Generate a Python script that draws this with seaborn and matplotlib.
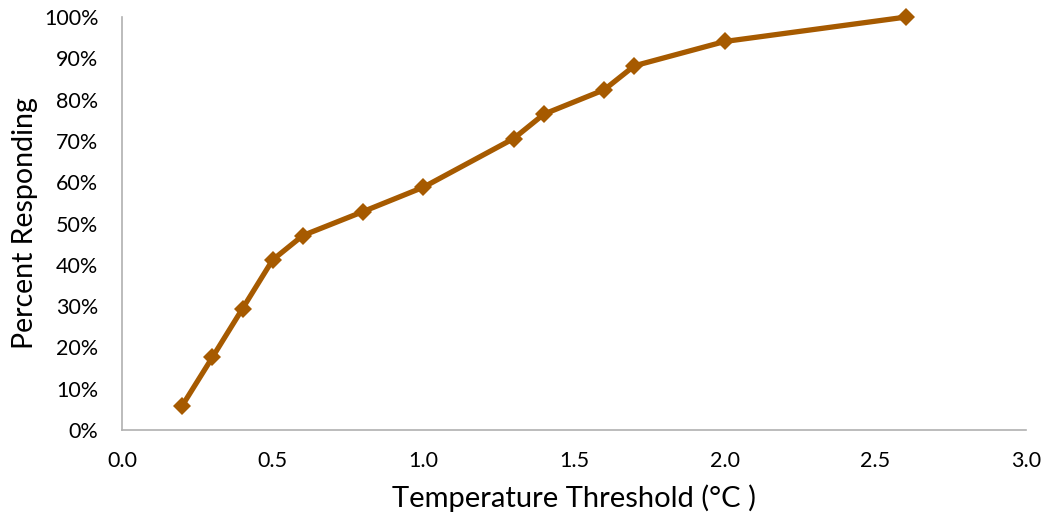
import pandas as pd
import seaborn as sns
import matplotlib.pyplot as plt
from matplotlib.ticker import PercentFormatter, MultipleLocator

# значения
threshold = [0.2, 0.3, 0.4, 0.5, 0.6, 0.8, 1.0, 1.3, 1.4, 1.6, 1.7, 2.0, 2.6]
responding = [5.9, 17.6, 29.4, 41.2, 47.1, 52.9, 58.8, 70.6, 76.5, 82.4, 88.2, 94.1, 100.0]

df = pd.DataFrame({'threshold': threshold, 'responding': responding})

sns.set_style('white')
plt.rcParams['font.family'] = ['Lato', 'DejaVu Sans']

fig = plt.figure(figsize=(10.47, 5.19), dpi=100)
ax = fig.add_axes([0.1165, 0.1715, 0.8635, 0.7955])

sns.lineplot(data=df, x='threshold', y='responding', ax=ax, color='#a65a00',
             linewidth=3.8, marker='D', markersize=9, markeredgewidth=0, clip_on=False)

ax.set_xlim(0, 3.0)
ax.set_ylim(0, 100)
ax.xaxis.set_major_locator(MultipleLocator(0.5))
ax.yaxis.set_major_locator(MultipleLocator(10))
ax.yaxis.set_major_formatter(PercentFormatter(decimals=0))
ax.xaxis.set_major_formatter(plt.FormatStrFormatter('%.1f'))

for s in ['top', 'right']:
    ax.spines[s].set_visible(False)
for s in ['left', 'bottom']:
    ax.spines[s].set_color('#b0b0b0')
    ax.spines[s].set_linewidth(1.2)
ax.tick_params(axis='both', direction='out', length=5, width=1.2, color='#b0b0b0',
               labelsize=15.5, labelcolor='black')
ax.tick_params(axis='y', pad=12)
ax.tick_params(axis='x', pad=10)

ax.set_xlabel('Temperature Threshold (°C )', fontsize=21, labelpad=10, color='black')
ax.set_ylabel('Percent Responding', fontsize=20.5, labelpad=4, color='black')

fig.savefig('out.png', dpi=100)
